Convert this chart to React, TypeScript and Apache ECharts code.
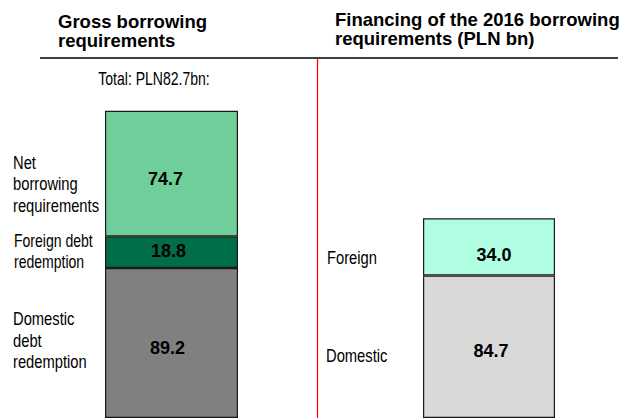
import React, { useEffect, useRef } from "react";
import * as echarts from "echarts";

// Left panel: gross borrowing requirements (PLN bn)
const grossCategory = ["Gross borrowing requirements"];
const domesticRedemption = [89.2];
const foreignRedemption = [18.8];
const netBorrowing = [74.7];

// Right panel: financing (PLN bn)
const financingCategory = ["Financing"];
const domesticFinancing = [84.7];
const foreignFinancing = [34.0];

const leftLabels = ["Net\nborrowing\nrequirements", "Foreign debt\nredemption", "Domestic\ndebt\nredemption"];
const rightLabels = ["Foreign", "Domestic"];
const totalText = "Total: PLN82.7bn:";
const leftTitle = "Gross borrowing\nrequirements";
const rightTitle = "Financing of the 2016 borrowing\nrequirements (PLN bn)";

const FONT = "'Liberation Sans', Arial, sans-serif";

export default function App() {
  const ref = useRef<HTMLDivElement>(null);
  useEffect(() => {
    if (!ref.current) return;
    const chart = echarts.init(ref.current, null, { renderer: "svg" });
    const valueLabel = (dx: number, dy: number) => ({
      show: true,
      position: "inside",
      offset: [dx, dy],
      color: "#000",
      fontWeight: "bold",
      fontSize: 18,
      fontFamily: FONT,
      formatter: (p: any) => Number(p.value).toFixed(1),
    });
    const border = { borderColor: "#1a1a1a", borderWidth: 1.2 };
    const narrow = (text: string, x: number, y: number, align: string, sx = 0.82) => ({
      type: "text",
      x,
      y,
      scaleX: sx,
      silent: true,
      style: {
        text,
        fontSize: 18,
        fontFamily: FONT,
        fill: "#000",
        align,
        verticalAlign: "middle",
        textAlign: align,
        textVerticalAlign: "middle",
        lineHeight: 21.5,
      },
    });
    const bold = (text: string, x: number, y: number) => ({
      type: "text",
      x,
      y,
      silent: true,
      style: {
        text,
        fontSize: 18.5,
        fontWeight: "bold",
        fontFamily: FONT,
        fill: "#000",
        align: "left",
        verticalAlign: "middle",
        textAlign: "left",
        textVerticalAlign: "middle",
        lineHeight: 19,
      },
    });
    chart.setOption({
      animation: false,
      backgroundColor: "#fff",
      grid: [
        { left: 105, width: 133, top: 81.6, height: 340 },
        { left: 423, width: 132, top: 81.6, height: 340 },
      ],
      xAxis: [
        { type: "category", gridIndex: 0, data: grossCategory, show: false },
        { type: "category", gridIndex: 1, data: financingCategory, show: false },
      ],
      yAxis: [
        { type: "value", gridIndex: 0, min: 0, max: 200, show: false },
        { type: "value", gridIndex: 1, min: 0, max: 200, show: false },
      ],
      series: [
        {
          type: "bar", name: "Domestic debt redemption", xAxisIndex: 0, yAxisIndex: 0, stack: "g",
          barWidth: "100%", data: domesticRedemption,
          itemStyle: { color: "#808080", ...border }, label: valueLabel(-4, 5),
        },
        {
          type: "bar", name: "Foreign debt redemption", xAxisIndex: 0, yAxisIndex: 0, stack: "g",
          barWidth: "100%", data: foreignRedemption,
          itemStyle: { color: "#006e46", ...border }, label: valueLabel(-3, -1),
        },
        {
          type: "bar", name: "Net borrowing requirements", xAxisIndex: 0, yAxisIndex: 0, stack: "g",
          barWidth: "100%", data: netBorrowing,
          itemStyle: { color: "#70ce9b", ...border }, label: valueLabel(-6, 5),
        },
        {
          type: "bar", name: "Domestic", xAxisIndex: 1, yAxisIndex: 1, stack: "f",
          barWidth: "100%", data: domesticFinancing,
          itemStyle: { color: "#d9d9d9", ...border }, label: valueLabel(2, 4),
        },
        {
          type: "bar", name: "Foreign", xAxisIndex: 1, yAxisIndex: 1, stack: "f",
          barWidth: "100%", data: foreignFinancing,
          itemStyle: { color: "#affee2", ...border }, label: valueLabel(5, 8),
        },
      ],
      graphic: [
        { type: "line", silent: true, shape: { x1: 40, y1: 58, x2: 618, y2: 58 }, style: { stroke: "#000", lineWidth: 1.5 } },
        { type: "line", silent: true, z: 10, shape: { x1: 317.5, y1: 58.5, x2: 317.5, y2: 418 }, style: { stroke: "#ff0000", lineWidth: 1.2 } },
        bold(leftTitle, 58, 30.5),
        bold(rightTitle, 335, 28.5),
        narrow(totalText, 154, 78, "center", 0.78),
        narrow(leftLabels[0], 13, 183.5, "left"),
        narrow(leftLabels[1], 14, 251, "left", 0.78),
        narrow(leftLabels[2], 13, 340, "left"),
        narrow(rightLabels[0], 327, 257, "left"),
        narrow(rightLabels[1], 326, 355, "left"),
      ],
    });
    return () => chart.dispose();
  }, []);
  return (
    <div
      ref={ref}
      style={{ position: "absolute", left: 0, top: 0, width: 624, height: 418 }}
    />
  );
}
